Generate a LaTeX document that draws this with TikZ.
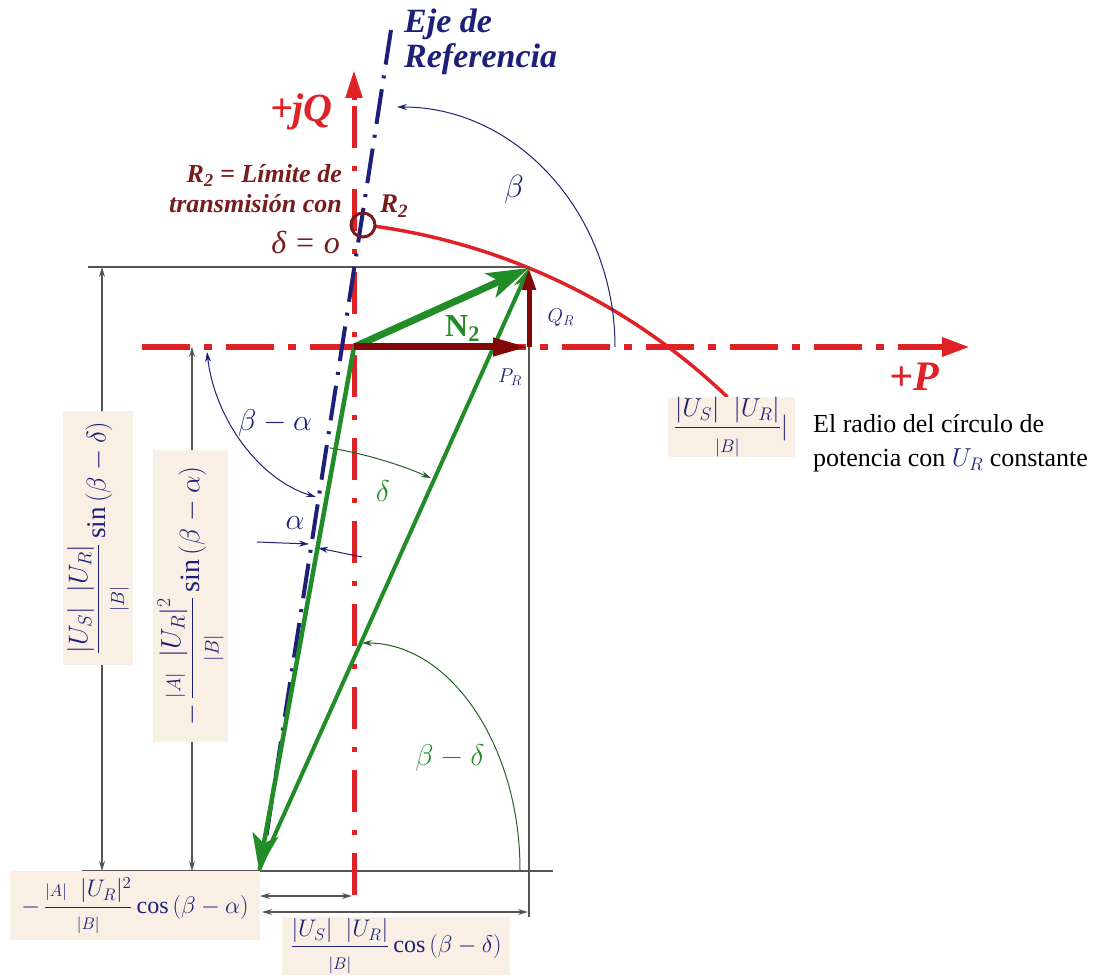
\RequirePackage{fix-cm}
\documentclass[tikz,border=0pt]{standalone}
\usepackage{amsmath}
\usepackage{fontspec}
\setmainfont{Liberation Serif}
\usetikzlibrary{arrows.meta}
\definecolor{axred}{RGB}{222,34,38}
\definecolor{navy}{RGB}{28,32,120}
\definecolor{drkred}{RGB}{128,8,8}
\definecolor{rlab}{RGB}{120,28,28}
\definecolor{vgreen}{RGB}{34,140,40}
\definecolor{arcgreen}{RGB}{40,95,40}
\definecolor{boxfill}{RGB}{250,239,228}
\definecolor{dimgray}{RGB}{85,85,85}
\newcommand\setfs[1]{\fontsize{#1}{#1}\selectfont}
\begin{document}
\begin{tikzpicture}[x=1pt,y=1pt,yscale=-1,
  dim/.style={draw=dimgray,line width=1.2pt},
  dimarr/.style={dim,{Stealth[length=10pt,width=6pt]}-{Stealth[length=10pt,width=6pt]}},
  lbl/.style={inner sep=0pt},
  boxlbl/.style={fill=boxfill,inner sep=0pt,text=navy,font=\setfs{24}},
  navarc/.style={navy,line width=1pt,-{Stealth[length=10pt,width=6pt]}},
  grnarc/.style={arcgreen,line width=1pt,-{Stealth[length=10pt,width=6pt]}}]
\useasboundingbox (0,0) rectangle (1112,976);
% key points
\coordinate (O) at (354,347);
\coordinate (P) at (529,268);
\coordinate (PRe) at (529,347);
\coordinate (S) at (259,870);
\coordinate (R2c) at (363,225);
\coordinate (Cc) at (286,859);
% dimension lines
\coordinate (tl) at (88,267);   \coordinate (tr) at (528,267);
\coordinate (bl) at (82,871);   \coordinate (br) at (553,871);
\coordinate (d1t) at (102,267); \coordinate (d1b) at (102,871);
\coordinate (d2t) at (192,347); \coordinate (d2b) at (192,871);
\coordinate (vrb) at (529,917);
\coordinate (h1l) at (260,896); \coordinate (h1r) at (352,896);
\coordinate (h2l) at (262,912); \coordinate (h2r) at (528,912);
\draw[dim] (tl) -- (tr);
\draw[dim] (bl) -- (br);
\draw[dim] (PRe) -- (vrb);
\draw[dimarr] (d1t) -- (d1b);
\draw[dimarr] (d2t) -- (d2b);
\draw[dimarr] (h1l) -- (h1r);
\draw[dimarr] (h2l) -- (h2r);
% axes
\coordinate (hx0) at (142,347); \coordinate (hx1) at (942,347); \coordinate (hx2) at (970,347);
\draw[axred,line width=6.5pt,dash pattern=on 48pt off 14pt on 8pt off 14pt] (hx0) -- (hx1);
\draw[axred,line width=6.5pt,-{Triangle[length=28pt,width=18pt]}] (hx1) -- (hx2);
\coordinate (vy0) at (354,895); \coordinate (vy1) at (354,100); \coordinate (vy2) at (354,70);
\draw[axred,line width=5pt,dash pattern=on 42pt off 18pt on 5pt off 18pt] (vy0) -- (vy1);
\draw[axred,line width=5pt,-{Triangle[length=28pt,width=16pt]}] (vy1) -- (vy2);
% reference axis
\coordinate (ra0) at (391,30); \coordinate (ra1) at (265,845);
\draw[navy,line width=4pt,dash pattern=on 35pt off 11pt on 3pt off 11pt] (ra0) -- (ra1);
% power circle
\draw[axred,line width=3.5pt] ([shift={(-81.9:639)}]Cc) arc[start angle=-81.9,end angle=-46.3,radius=639];
\draw[rlab,line width=3pt] (R2c) circle[radius=12];
% angle arcs
\draw[navarc] (615,347) arc[start angle=0,end angle=-90,x radius=218,y radius=240];
\draw[grnarc] (520,870) arc[start angle=0,end angle=-90,x radius=158,y radius=227];
\draw[grnarc] ([shift={(-80.5:428)}]S) arc[start angle=-80.5,end angle=-66.3,radius=428];
\draw[navy,line width=1pt,{Stealth[length=10pt,width=6pt]}-{Stealth[length=10pt,width=6pt]}] (207,352) .. controls (215,420) and (260,480) .. (316,497);
\draw[navarc] (257,542) -- (309,544);
\draw[navarc] (362,557) -- (318,548);
% vectors
\draw[vgreen,line width=4.5pt,-{Stealth[length=36pt,width=26pt,inset=9pt]}] (O) -- (S);
\draw[vgreen,line width=4pt,-{Stealth[length=22pt,width=13pt]}] (S) -- (P);
\draw[vgreen,line width=7pt,-{Stealth[length=42pt,width=26pt,inset=10pt]}] (O) -- (P);
\draw[drkred,line width=7pt,-{Triangle[length=36pt,width=17pt]}] (O) -- (PRe);
\draw[drkred,line width=5pt,-{Triangle[length=22pt,width=13pt]}] (PRe) -- (P);
% labels
\node[lbl,anchor=base west,text=navy,font=\setfs{34}\bfseries\itshape] (eje1) at (404,33) {Eje de};
\node[lbl,anchor=base west,text=navy,font=\setfs{34}\bfseries\itshape] (eje2) at (404,68) {Referencia};
\node[lbl,anchor=base east,text=axred,font=\setfs{40}\bfseries\itshape] (jq) at (333,122) {+jQ};
\node[lbl,anchor=base west,text=axred,font=\setfs{42}\bfseries\itshape] (pp) at (889,391) {+P};
\node[lbl,anchor=base east,text=rlab,font=\setfs{26}\bfseries\itshape] (r2a) at (342,183) {R\textsubscript{2} = Límite de};
\node[lbl,anchor=base east,text=rlab,font=\setfs{26}\bfseries\itshape] (r2b) at (342,213) {transmisión con};
\node[lbl,anchor=base east,text=rlab,font=\setfs{32}\itshape] (d0) at (340,254) {δ = o};
\node[lbl,anchor=base west,text=rlab,font=\setfs{27}\bfseries\itshape] (r2) at (380,213) {R\textsubscript{2}};
\node[lbl,anchor=base west,text=vgreen,font=\setfs{32}\bfseries] (n2) at (445,337) {N\textsubscript{2}};
\node[lbl,text=navy,font=\setfs{20}] (qr) at (561,318) {$Q_R$};
\node[lbl,text=navy,font=\setfs{20}] (pr) at (510,377) {$P_R$};
\node[lbl,text=navy,font=\setfs{32}] (lb) at (514,190) {$\beta$};
\node[lbl,text=navy,font=\setfs{30}] (lba) at (275,423) {$\beta-\alpha$};
\node[lbl,text=navy,font=\setfs{30}] (la) at (295,523) {$\alpha$};
\node[lbl,text=vgreen,font=\setfs{30}] (ld) at (383,491) {$\delta$};
\node[lbl,text=vgreen,font=\setfs{30}] (lbd) at (450,758) {$\beta-\delta$};
% boxes
\node[boxlbl,minimum width=250pt,minimum height=69pt] (b1) at (135,905.5)
  {$-\,\dfrac{{\scriptstyle|A|}\;\;|U_R|^2}{{\scriptstyle|B|}}\cos\left(\beta-\alpha\right)$};
\node[boxlbl,minimum width=228pt,minimum height=58pt] (b2) at (396,946)
  {$\dfrac{|U_S|\;\;|U_R|}{{\scriptstyle|B|}}\cos\left(\beta-\delta\right)$};
\node[boxlbl,font=\setfs{26},minimum width=127pt,minimum height=60pt] (b3) at (731,427)
  {$\dfrac{|U_S|\;\;|U_R|}{{\scriptstyle|B|}}|$};
\node[boxlbl,font=\setfs{27},rotate=90,minimum width=253pt,minimum height=70pt] (bA) at (98,538)
  {$\dfrac{|U_S|\;\;|U_R|}{{\scriptstyle|B|}}\sin\left(\beta-\delta\right)$};
\node[boxlbl,font=\setfs{28},rotate=90,minimum width=292pt,minimum height=75pt] (bB) at (190.5,596)
  {$-\,\dfrac{{\scriptstyle|A|}\;\;|U_R|^2}{{\scriptstyle|B|}}\sin\left(\beta-\alpha\right)$};
% radius note
\node[lbl,anchor=base west,font=\setfs{26}] (rad1) at (813,432) {El radio del círculo de};
\node[lbl,anchor=base west,font=\setfs{26}] (rad2) at (813,467) {potencia con {\color{navy}$U_R$} constante};
\end{tikzpicture}
\end{document}
